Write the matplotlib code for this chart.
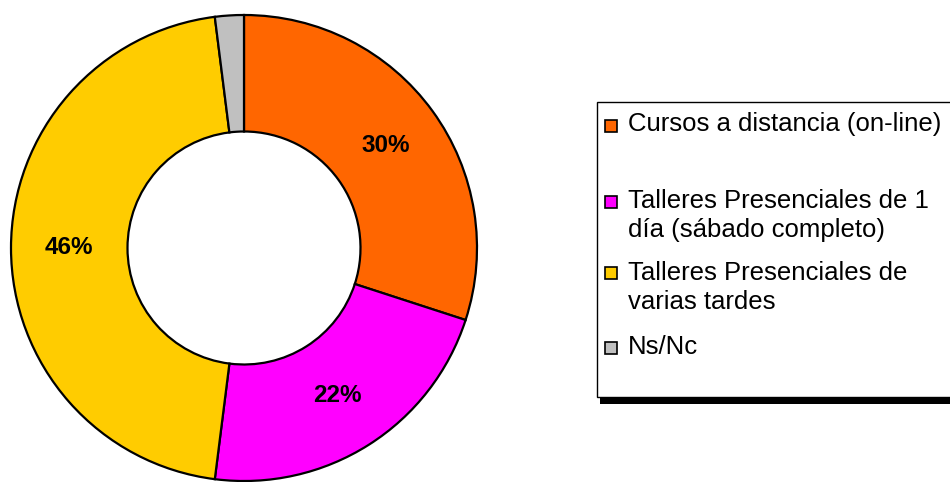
import matplotlib.pyplot as plt
from matplotlib.patches import Rectangle

plt.rcParams['font.family'] = ['Liberation Sans', 'DejaVu Sans']

labels = ["Cursos a distancia (on-line)",
          "Talleres Presenciales de 1\ndía (sábado completo)",
          "Talleres Presenciales de\nvarias tardes",
          "Ns/Nc"]
values = [30, 22, 46, 2]
colors = ["#FF6600", "#FF00FF", "#FFCC00", "#C0C0C0"]

W, H = 950, 482
fig = plt.figure(figsize=(W / 100, H / 100), dpi=100)


def px(x, y):
    # pixel (from top-left) -> figure fraction
    return x / W, 1 - y / H


# donut: centre (244, 249), radius 233 px
ax = fig.add_axes([11 / W, 1 / H, 466 / W, 466 / H])
ax.pie(values, colors=colors, startangle=90, counterclock=False, radius=1,
       wedgeprops=dict(width=0.5, edgecolor='black', linewidth=1.6),
       autopct=lambda p: f'{p:.0f}%' if p > 5 else '', pctdistance=0.75,
       textprops=dict(fontsize=17.5, fontweight='bold', color='black'))
ax.set_xlim(-1, 1)
ax.set_ylim(-1, 1)
ax.set_aspect('equal')
ax.axis('off')

# legend box with shadow
x0, y0 = px(600, 404)
fig.add_artist(Rectangle((x0, y0), 1 - x0 + 0.01, 8 / H, transform=fig.transFigure,
                         facecolor='black', edgecolor='none'))
x0, y0 = px(597, 397)
fig.add_artist(Rectangle((x0, y0), 1 - x0 + 0.01, 295 / H, transform=fig.transFigure,
                         facecolor='white', edgecolor='black', linewidth=1))

marker_y = [126, 202, 273, 348]
text_y = [124, 215.5, 287.5, 347]
for lab, col, my, ty in zip(labels, colors, marker_y, text_y):
    mx, myf = px(605, my + 6)
    fig.add_artist(Rectangle((mx, myf), 12 / W, 12 / H, transform=fig.transFigure,
                             facecolor=col, edgecolor='black', linewidth=1.2))
    tx, tyf = px(628, ty)
    fig.text(tx, tyf, lab, fontsize=18.5, va='center', ha='left', linespacing=1.3)

fig.savefig('out.png', dpi=100)
